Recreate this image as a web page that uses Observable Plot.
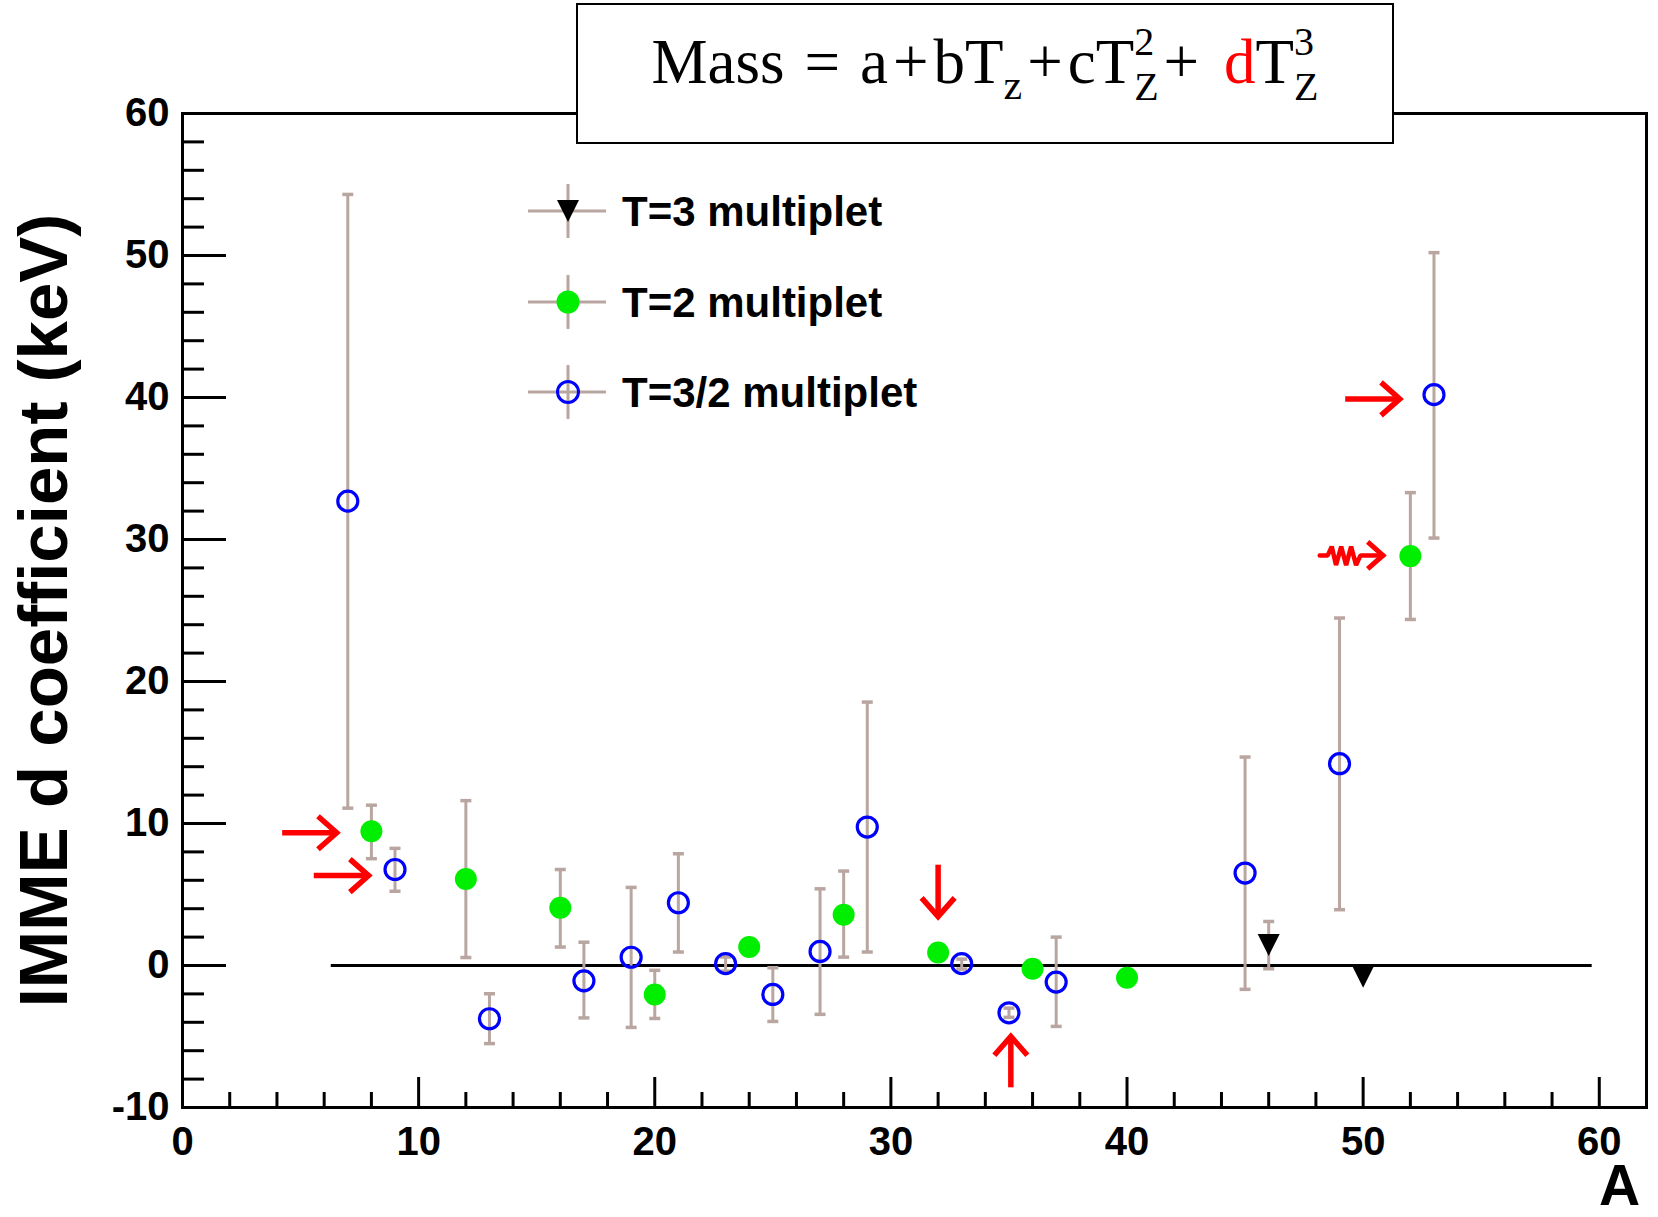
<!DOCTYPE html>
<html>
<head>
<meta charset="utf-8">
<script src="https://cdn.jsdelivr.net/npm/d3@7"></script>
<script src="https://cdn.jsdelivr.net/npm/@observablehq/plot@0.6"></script>
<style>
  html, body { margin: 0; padding: 0; background: #fff; }
  #wrap { position: relative; width: 1658px; height: 1217px; overflow: hidden; background: #fff; }
  #wrap > svg { position: absolute; left: 0; top: 0; }
  #formula {
    position: absolute; left: 576px; top: 3px; width: 818px; height: 141px;
    box-sizing: border-box; border: 2px solid #000; background: #fff;
    font-family: "Liberation Serif", "Times New Roman", serif; font-size: 63px;
    line-height: 62px; text-align: center; padding-top: 14px; white-space: nowrap; color: #000;
  }
  #formula .eq { margin: 0 20px; }
  #formula .op { padding: 0 5px; }
  #formula .gap { display: inline-block; width: 20px; }
  #formula .sb { font-size: 42px; vertical-align: -16px; }
  #formula .ss { display: inline-block; vertical-align: -17px; font-size: 40px; line-height: 45px; text-align: left; }
  #formula .ss span { display: block; }
  #formula .red { color: #ff0000; }
  #legend { position: absolute; left: 0; top: 0; pointer-events: none; }
</style>
</head>
<body>
<div id="wrap"></div>
<script>
// ---------------- data ----------------
// T=3/2 multiplet (blue open circles)
const tHalfA  = [7, 9, 13, 17, 19, 21, 23, 25, 27, 29, 33, 35, 37, 45, 49, 53];
const tHalfD  = [32.7, 6.76, -3.75, -1.08, 0.58, 4.42, 0.13, -2.04, 0.99, 9.75, 0.13, -3.33, -1.17, 6.51, 14.21, 40.2];
const tHalfHi = [54.3, 8.25, -1.99, 1.64, 5.5, 7.87, 0.6, -0.16, 5.4, 18.55, 0.45, -3.0, 2.0, 14.68, 24.47, 50.2];
const tHalfLo = [11.08, 5.23, -5.5, -3.69, -4.36, 0.95, -0.4, -3.94, -3.44, 0.95, -0.25, -3.65, -4.29, -1.68, 3.93, 30.1];

// T=2 multiplet (green filled circles)
const t2A  = [8, 12, 16, 20, 24, 28, 32, 36, 40, 52];
const t2D  = [9.45, 6.09, 4.07, -2.04, 1.30, 3.58, 0.92, -0.23, -0.86, 28.83];
const t2Hi = [11.29, 11.61, 6.76, -0.34, null, 6.65, null, null, null, 33.3];
const t2Lo = [7.52, 0.56, 1.30, -3.73, null, 0.59, null, null, null, 24.37];

// T=3 multiplet (black down triangles)
const t3A  = [46, 50];
const t3D  = [1.45, -0.8];
const t3Hi = [3.1, null];
const t3Lo = [-0.23, null];

// axis ticks
const xMajorTicks = [0, 10, 20, 30, 40, 50, 60];
const xMinorTicks = [2, 4, 6, 8, 12, 14, 16, 18, 22, 24, 26, 28, 32, 34, 36, 38, 42, 44, 46, 48, 52, 54, 56, 58];
const yMajorTicks = [-10, 0, 10, 20, 30, 40, 50, 60];
const yMinorTicks = [-8, -6, -4, -2, 2, 4, 6, 8, 12, 14, 16, 18, 22, 24, 26, 28, 32, 34, 36, 38, 42, 44, 46, 48, 52, 54, 56, 58];

// zero reference line extent (A)
const zeroLine = [6.3, 59.7];

// red annotation arrows (data units)
const arrowX1 = [4.22, 5.56, 32.0, 35.08, 49.24];
const arrowY1 = [9.35, 6.33, 7.1, -8.58, 39.9];
const arrowX2 = [6.53, 7.88, 32.0, 35.08, 51.55];
const arrowY2 = [9.35, 6.33, 3.45, -5.0, 39.9];

// wavy arrow pointing at A=52
const wavyX = [48.16, 48.5, 48.67, 48.85, 49.07, 49.28, 49.49, 49.70, 49.89, 50.84];
const wavyY = [28.88, 28.88, 29.5, 28.2, 29.5, 28.2, 29.5, 28.2, 28.88, 28.88];

const legendLabels = ["T=3 multiplet", "T=2 multiplet", "T=3/2 multiplet"];

// ---------------- styles ----------------
const errColor = "#b9a6a0";
const green = "#00ee00";
const blue = "#0000ff";
const red = "#ff0000";
const W = 1658, H = 1217;
const mL = 182, mR = 12, mT = 113, mB = 110;
const frameW = W - mL - mR, frameH = H - mT - mB;
const xMajorLen = 30, xMinorLen = 15, yMajorLen = 44, yMinorLen = 22;

// ---------------- tables ----------------
const rows = (A, D, Hi, Lo) => A.map((a, i) => ({A: a, d: D[i], hi: Hi[i], lo: Lo[i]}));
const tHalf = rows(tHalfA, tHalfD, tHalfHi, tHalfLo);
const t2 = rows(t2A, t2D, t2Hi, t2Lo);
const t3 = rows(t3A, t3D, t3Hi, t3Lo);
const errAll = [...tHalf, ...t2, ...t3].filter(d => d.hi != null && d.lo != null);
const arrows = arrowX1.map((x1, i) => ({x1, y1: arrowY1[i], x2: arrowX2[i], y2: arrowY2[i]}));
const wavy = wavyX.map((x, i) => ({x, y: wavyY[i]}));
const wavyTip = [wavy[wavy.length - 1]];

// ---------------- custom symbols ----------------
const capSym = {draw(ctx, size) { const r = Math.sqrt(size / Math.PI); ctx.moveTo(-r, 0); ctx.lineTo(r, 0); }};
const triDown = {draw(ctx, size) { const r = Math.sqrt(size / Math.PI); ctx.moveTo(-r, -r); ctx.lineTo(r, -r); ctx.lineTo(0, r); ctx.closePath(); }};
const chevron = {draw(ctx, size) { const k = Math.sqrt(size / Math.PI) / 10; ctx.moveTo(-17 * k, -15 * k); ctx.lineTo(0, 0); ctx.lineTo(-17 * k, 15 * k); }};
const dirOf = d => d.y2 === d.y1 ? (d.x2 > d.x1 ? 0 : 180) : (d.y2 > d.y1 ? -90 : 90);

const chart = Plot.plot({
  width: W, height: H,
  marginLeft: mL, marginRight: mR, marginTop: mT, marginBottom: mB,
  x: {domain: [0, 62]},
  y: {domain: [-10, 60]},
  style: {fontFamily: "'Liberation Sans', Arial, sans-serif", fontWeight: "bold", background: "#fff", color: "#000", overflow: "visible"},
  marks: [
    Plot.ruleY([0], {x1: zeroLine[0], x2: zeroLine[1], stroke: "#000", strokeWidth: 3}),
    // error bars
    Plot.ruleX(errAll, {x: "A", y1: "lo", y2: "hi", stroke: errColor, strokeWidth: 3}),
    Plot.dot(errAll, {x: "A", y: "hi", symbol: capSym, r: 5.5, fill: "none", stroke: errColor, strokeWidth: 3.5}),
    Plot.dot(errAll, {x: "A", y: "lo", symbol: capSym, r: 5.5, fill: "none", stroke: errColor, strokeWidth: 3.5}),
    // points
    Plot.dot(t2, {x: "A", y: "d", r: 11, fill: green, stroke: "none"}),
    Plot.dot(tHalf, {x: "A", y: "d", r: 10, fill: "none", stroke: blue, strokeWidth: 3.2}),
    Plot.dot(t3, {x: "A", y: "d", r: 11, symbol: triDown, fill: "#000", stroke: "none"}),
    // red annotations
    Plot.link(arrows, {x1: "x1", y1: "y1", x2: "x2", y2: "y2", stroke: red, strokeWidth: 5.5}),
    Plot.dot(arrows, {x: "x2", y: "y2", rotate: dirOf, symbol: chevron, r: 11, fill: "none", stroke: red, strokeWidth: 5.5, strokeLinejoin: "miter"}),
    Plot.line(wavy, {x: "x", y: "y", stroke: red, strokeWidth: 4.5, strokeLinejoin: "miter"}),
    Plot.dot(wavyTip, {x: "x", y: "y", rotate: 0, symbol: chevron, r: 9, fill: "none", stroke: red, strokeWidth: 5, strokeLinejoin: "miter"}),
    // inward ticks
    Plot.ruleX(xMajorTicks, {x: d => d, insetTop: frameH - xMajorLen, stroke: "#000", strokeWidth: 3}),
    Plot.ruleX(xMinorTicks, {x: d => d, insetTop: frameH - xMinorLen, stroke: "#000", strokeWidth: 3}),
    Plot.ruleY(yMajorTicks, {y: d => d, insetRight: frameW - yMajorLen, stroke: "#000", strokeWidth: 3}),
    Plot.ruleY(yMinorTicks, {y: d => d, insetRight: frameW - yMinorLen, stroke: "#000", strokeWidth: 3}),
    Plot.frame({stroke: "#000", strokeWidth: 3}),
    // axes labels
    Plot.axisX(xMajorTicks, {tickSize: 0, tickPadding: 19, fontSize: 40, fontWeight: "bold", tickFormat: d => String(d), label: null}),
    Plot.axisY(yMajorTicks, {tickSize: 0, tickPadding: 13, fontSize: 40, fontWeight: "bold", tickFormat: d => String(d), label: null}),
    Plot.text(["IMME d coefficient (keV)"], {text: d => d, frameAnchor: "left", textAnchor: "middle", lineAnchor: "middle", dx: -138, rotate: -90, fontSize: 69, fontWeight: "bold", fill: "#000"}),
    Plot.text(["A"], {text: d => d, frameAnchor: "bottom-right", textAnchor: "middle", lineAnchor: "middle", dx: -27, dy: 79, fontSize: 57, fontWeight: "bold", fill: "#000"})
  ]
});

const wrap = document.getElementById("wrap");
wrap.appendChild(chart);

// ---------------- legend (overlay) ----------------
const legendY = [211, 302, 392];
const legSvg = d3.select(wrap).append("svg").attr("id", "legend").attr("width", W).attr("height", H);
const lx = 568;
legendLabels.forEach((lab, i) => {
  const g = legSvg.append("g").attr("transform", `translate(${lx},${legendY[i]})`);
  g.append("line").attr("x1", -40).attr("x2", 38).attr("y1", 0).attr("y2", 0).attr("stroke", errColor).attr("stroke-width", 3);
  g.append("line").attr("x1", 0).attr("x2", 0).attr("y1", -27).attr("y2", 27).attr("stroke", errColor).attr("stroke-width", 3);
  if (i === 0) g.append("path").attr("d", "M-11,-11L11,-11L0,11Z").attr("fill", "#000");
  if (i === 1) g.append("circle").attr("r", 11.5).attr("fill", green);
  if (i === 2) g.append("circle").attr("r", 10.5).attr("fill", "none").attr("stroke", blue).attr("stroke-width", 3);
  legSvg.append("text").attr("x", 622).attr("y", legendY[i] + 15)
    .attr("font-family", "'Liberation Sans', Arial, sans-serif").attr("font-weight", "bold")
    .attr("font-size", 42).attr("fill", "#000").text(lab);
});

// ---------------- formula box ----------------
const box = document.createElement("div");
box.id = "formula";
box.innerHTML = 'Mass<span class="eq">=</span>a<span class="op">+</span>bT<span class="sb">z</span><span class="op">+</span>cT<span class="ss"><span>2</span><span>Z</span></span><span class="op">+</span><span class="gap"></span><span class="red">d</span>T<span class="ss"><span>3</span><span>Z</span></span>';
wrap.appendChild(box);
</script>
</body>
</html>
